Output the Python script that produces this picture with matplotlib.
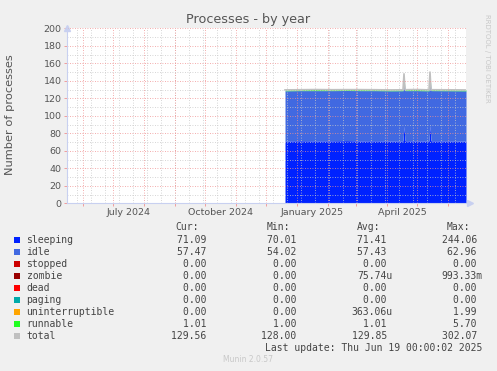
from datetime import datetime, timedelta
import matplotlib
matplotlib.use("Agg")
import matplotlib.pyplot as plt
import matplotlib.dates as mdates
import numpy as np

dates = ["2024-12-20", "2025-01-05", "2025-01-20", "2025-02-05", "2025-02-20",
         "2025-03-05", "2025-03-20", "2025-04-05", "2025-04-17", "2025-04-18",
         "2025-04-19", "2025-05-01", "2025-05-13", "2025-05-14", "2025-05-15",
         "2025-06-01", "2025-06-19"]
sleeping = [71.2, 71.5, 71.3, 71.4, 71.6, 71.3, 71.4, 71.2, 71.3, 88.0,
            71.4, 71.3, 71.2, 89.0, 71.4, 71.3, 71.09]
idle = [57.4, 57.3, 57.5, 57.4, 57.3, 57.5, 57.4, 57.4, 57.4, 57.6,
        57.4, 57.5, 57.4, 57.8, 57.4, 57.4, 57.47]
runnable = [1.01, 1.0, 1.2, 1.0, 1.0, 1.1, 1.0, 1.0, 1.0, 1.5,
            1.0, 1.2, 1.0, 1.4, 1.0, 1.0, 1.01]
total = [129.6, 129.8, 130.0, 129.8, 129.9, 129.9, 129.8, 129.6, 129.7, 148.0,
         129.8, 130.0, 129.6, 150.0, 129.8, 129.7, 129.56]

series = ["sleeping", "idle", "stopped", "zombie", "dead", "paging",
          "uninterruptible", "runnable", "total"]
colors = ["#0022ff", "#4169e1", "#cc0000", "#990000", "#ff0000", "#00aaaa",
          "#ffa500", "#22ff22", "#c0c0c0"]
cur = ["71.09 ", "57.47 ", "0.00 ", "0.00 ", "0.00 ", "0.00 ", "0.00 ", "1.01 ", "129.56 "]
mins = ["70.01 ", "54.02 ", "0.00 ", "0.00 ", "0.00 ", "0.00 ", "0.00 ", "1.00 ", "128.00 "]
avgs = ["71.41 ", "57.43 ", "0.00 ", "75.74u", "0.00 ", "0.00 ", "363.06u", "1.01 ", "129.85 "]
maxs = ["244.06 ", "62.96 ", "0.00 ", "993.33m", "0.00 ", "0.00 ", "1.99 ", "5.70 ", "302.07 "]

W, H = 497, 371
fig = plt.figure(figsize=(W / 100, H / 100), dpi=100, facecolor="#f0f0f0")
ax = fig.add_axes([67 / W, (H - 203.3) / H, 399 / W, 175 / H])
ax.set_facecolor("white")

x = mdates.date2num([datetime.strptime(d, "%Y-%m-%d") for d in dates])
s = np.array(sleeping)
i = np.array(idle)
r = np.array(runnable)
ax.fill_between(x, 0, s, color=colors[0], lw=0, zorder=1)
ax.fill_between(x, s, s + i, color=colors[1], lw=0, zorder=1)
ax.fill_between(x, s + i, s + i + r, color=colors[7], lw=0, zorder=1)
ax.plot(x, total, color=colors[8], lw=1.2, zorder=2)

x0 = mdates.date2num(datetime(2024, 5, 16))
x1 = mdates.date2num(datetime(2025, 6, 19))
ax.set_xlim(x0, x1)
ax.set_ylim(0, 200)

# grid on top of the areas, like rrdtool
months = [mdates.date2num(datetime(2024 + (m - 1) // 12, (m - 1) % 12 + 1, 1)) for m in range(6, 19)]
biweekly = [mdates.date2num(datetime(2024, 5, 26) + timedelta(days=14 * k)) for k in range(29)]
for v in biweekly:
    ax.axvline(v, color="#c8c8c8", lw=0.6, ls=(0, (1, 2)), zorder=3)
for v in months:
    ax.axvline(v, color="#f09090", lw=0.6, ls=(0, (1, 2)), zorder=3)
for v in range(10, 201, 20):
    ax.axhline(v, color="#c8c8c8", lw=0.6, ls=(0, (1, 2)), zorder=3)
for v in range(20, 201, 20):
    ax.axhline(v, color="#f09090", lw=0.6, ls=(0, (1, 2)), zorder=3)

ax.set_yticks(range(0, 201, 20))
ax.set_xticks(months)
ax.set_xticklabels([])
ax.tick_params(axis="x", length=2, color="#f09090", width=0.6)
ax.tick_params(axis="y", length=2, color="#f09090", width=0.6, pad=2,
               labelsize=6.8, labelcolor="#555555")
for sp in ["top", "right"]:
    ax.spines[sp].set_visible(False)
for sp in ["left", "bottom"]:
    ax.spines[sp].set_color("#c8d0f0")
    ax.spines[sp].set_linewidth(0.8)
    ax.spines[sp].set_zorder(4)
ax.plot([0], [1.0], marker="^", ms=4, color="#c8d0f0", transform=ax.transAxes, clip_on=False)
ax.plot([1.01], [0], marker=">", ms=4, color="#c8d0f0", transform=ax.transAxes, clip_on=False)

for lbl, d in [("July 2024", datetime(2024, 7, 17)), ("October 2024", datetime(2024, 10, 16)),
               ("January 2025", datetime(2025, 1, 16)), ("April 2025", datetime(2025, 4, 16))]:
    ax.text(mdates.date2num(d), -0.05, lbl, transform=ax.get_xaxis_transform(),
            ha="center", va="center", fontsize=6.8, color="#555555")

fig.text(248 / W, 1 - 19 / H, "Processes - by year", ha="center", va="center",
         fontsize=9.2, color="#555555")
fig.text(10 / W, 1 - 115 / H, "Number of processes", rotation=90, ha="center", va="center",
         fontsize=8.2, color="#555555")
fig.text(487 / W, 1 - 58 / H, "RRDTOOL / TOBI OETIKER", rotation=270, ha="center", va="center",
         fontsize=5, color="#c8c8c8")


def px(xp, yp):
    return xp / W, 1 - yp / H


mono = dict(family="DejaVu Sans Mono", fontsize=7, color="#444444", va="center")
for hdr, xr in [("Cur:", 199), ("Min:", 290), ("Avg:", 380), ("Max:", 470)]:
    fig.text(*px(xr, 227.5), hdr, ha="right", **mono)
for k, name in enumerate(series):
    y = 240 + 12 * k
    fig.patches.append(plt.Rectangle(px(14, y + 3), 6 / W, 6 / H, transform=fig.transFigure,
                                     color=colors[k], lw=0))
    fig.text(*px(26.5, y), name, ha="left", **mono)
    fig.text(*px(212, y), cur[k], ha="right", **mono)
    fig.text(*px(302.5, y), mins[k], ha="right", **mono)
    fig.text(*px(392.7, y), avgs[k], ha="right", **mono)
    fig.text(*px(482.7, y), maxs[k], ha="right", **mono)
fig.text(*px(482.7, 347.7), "Last update: Thu Jun 19 00:00:02 2025", ha="right", **mono)
fig.text(*px(248, 360), "Munin 2.0.57", ha="center", va="center", fontsize=5.5, color="#c8c8c8")

fig.savefig("out.png", dpi=100, facecolor=fig.get_facecolor())
